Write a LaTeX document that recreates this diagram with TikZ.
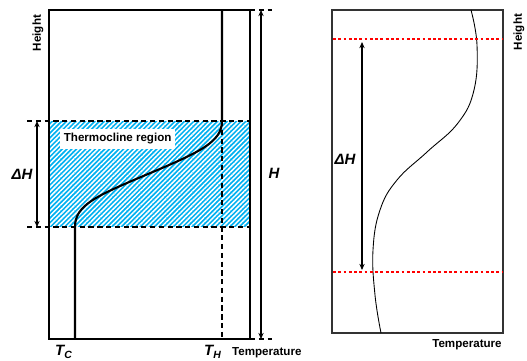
\documentclass[tikz,border=0pt]{standalone}
\usepackage{fontspec}
\setmainfont{Liberation Sans}
\usetikzlibrary{arrows.meta,patterns.meta}

\definecolor{thermocyan}{RGB}{0,176,240}
\definecolor{levelred}{RGB}{255,0,0}

\tikzset{
  tank/.style={line width=1.2pt},
  level/.style={line width=1.2pt,dash pattern=on 3pt off 2pt},
  dim/.style={line width=0.7pt,{Stealth[length=3.5pt,width=3pt]}-{Stealth[length=3.5pt,width=3pt]}},
  lbl/.style={font=\fontsize{6.6}{8}\selectfont\bfseries,inner sep=1pt},
  sym/.style={font=\fontsize{8.5}{10}\selectfont\bfseries\itshape,inner sep=1pt},
  redline/.style={levelred,line width=0.9pt,dash pattern=on 1.6pt off 1.4pt}
}

\begin{document}
\begin{tikzpicture}[x=0.02cm,y=-0.02cm]
\useasboundingbox (0,0) rectangle (527,360);
% Left panel: idealised thermocline in the tank
\fill[thermocyan] (49,121) rectangle (250,227);
\fill[pattern={Lines[angle=45,distance=1.9pt,line width=0.85pt]},pattern color=white]
  (49,121) rectangle (250,227);
\node[lbl,fill=white,anchor=west,minimum height=20*0.02cm,inner xsep=2pt] (thermo) at (60,139) {Thermocline region};
\draw[tank] (49,10) rectangle (250,339);
% profile: hot on top, cold below
\coordinate (hotTop) at (222,10);
\coordinate (hotEnd) at (222,121);
\coordinate (coldEnd) at (75,227);
\coordinate (coldBot) at (75,339);
\draw[tank] (hotTop) -- (hotEnd)
  .. controls (222,142) and (200,152) .. (148,174)
  .. controls (96,196) and (75,205) .. (coldEnd) -- (coldBot);
\draw[level] (hotEnd) -- (222,339);
% thermocline limits
\draw[level] (27,121) -- (250,121);
\draw[level] (27,227) -- (250,227);
\draw[level] (250,10) -- (272,10);
\draw[level] (250,339) -- (272,339);
% dimensions
\coordinate (dhTop) at (37,121);
\coordinate (dhBot) at (37,227);
\draw[dim] (dhTop) -- (dhBot);
\node[sym] (dhL) at (22,174) {ΔH};
\coordinate (hTop) at (261,10);
\coordinate (hBot) at (261,339);
\draw[dim] (hTop) -- (hBot);
\node[sym] (hL) at (274,173) {H};
% axis labels
\node[lbl,rotate=90] (heightL) at (38,33) {Height};
\node[sym] (tc) at (64,352) {T\textsubscript{C}};
\node[sym] (th) at (213,352) {T\textsubscript{H}};
\node[lbl,anchor=west] (tempL) at (230,353) {Temperature};
% Right panel: measured profile
\draw[line width=0.6pt,black!80] (332,10) rectangle (503,333);
\draw[line width=0.5pt] plot[smooth,tension=0.7] coordinates {
  (471,10) (477,45) (474,90) (458,123) (427,152) (397,180)
  (380,210) (373,250) (375,295) (381,333)};
\coordinate (upL) at (333,39);
\coordinate (upR) at (503,39);
\coordinate (loL) at (333,272);
\coordinate (loR) at (503,272);
\draw[redline] (upL) -- (upR);
\draw[redline] (loL) -- (loR);
\coordinate (dtTop) at (362,42);
\coordinate (dtBot) at (362,270);
\draw[dim] (dtTop) -- (dtBot);
\node[sym] (dhR) at (345,159) {ΔH};
\node[lbl,rotate=90] (heightR) at (519,32) {Height};
\node[lbl] (tempR) at (467,345) {Temperature};
\end{tikzpicture}
\end{document}
